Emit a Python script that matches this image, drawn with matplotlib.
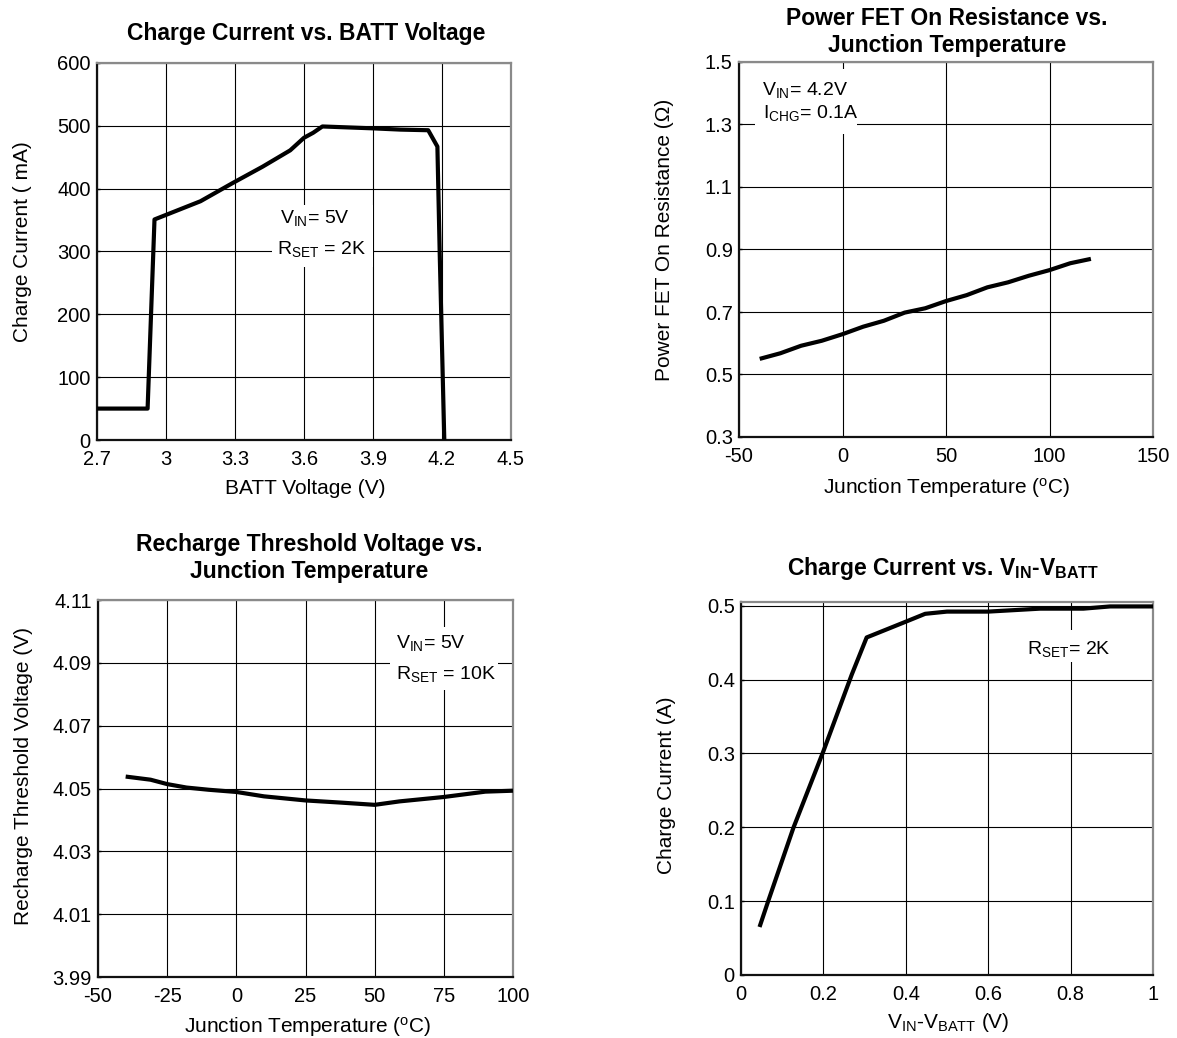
import matplotlib
matplotlib.use("Agg")
import matplotlib.pyplot as plt
from matplotlib.patches import Rectangle

plt.rcParams['font.family'] = ['Liberation Sans', 'DejaVu Sans']
plt.rcParams['mathtext.fontset'] = 'custom'
plt.rcParams['mathtext.rm'] = 'Liberation Sans'
plt.rcParams['mathtext.it'] = 'Liberation Sans:italic'
plt.rcParams['mathtext.bf'] = 'Liberation Sans:bold'
plt.rcParams['mathtext.sf'] = 'Liberation Sans'

# ---------------- data ----------------
# Panel 1: Charge Current vs. BATT Voltage
batt_v = [2.70, 2.92, 2.95, 3.15, 3.29, 3.42, 3.54, 3.60, 3.64, 3.68, 3.90, 4.02, 4.14, 4.18, 4.19, 4.21]
charge_ma = [50, 50, 351, 380, 409, 435, 461, 481, 489, 499, 496, 494, 493, 467, 298, 0]
p1_xticks = [2.7, 3.0, 3.3, 3.6, 3.9, 4.2, 4.5]
p1_xlabels = ["2.7", "3", "3.3", "3.6", "3.9", "4.2", "4.5"]
p1_yticks = [0, 100, 200, 300, 400, 500, 600]
p1_ylabels = ["0", "100", "200", "300", "400", "500", "600"]

# Panel 2: Power FET On Resistance vs. Junction Temperature
fet_temp = [-40, -30, -20, -10, 0, 10, 20, 30, 40, 50, 60, 70, 80, 90, 100, 110, 120]
fet_res = [0.550, 0.568, 0.592, 0.608, 0.629, 0.653, 0.672, 0.698, 0.712, 0.735,
           0.754, 0.779, 0.795, 0.816, 0.834, 0.856, 0.870]
p2_xticks = [-50, 0, 50, 100, 150]
p2_xlabels = ["-50", "0", "50", "100", "150"]
p2_yticks = [0.3, 0.5, 0.7, 0.9, 1.1, 1.3, 1.5]
p2_ylabels = ["0.3", "0.5", "0.7", "0.9", "1.1", "1.3", "1.5"]

# Panel 3: Recharge Threshold Voltage vs. Junction Temperature
rch_temp = [-40, -31, -25, -18, -10, 0, 10, 25, 38, 50, 59, 75, 90, 100]
rch_volt = [4.0538, 4.0528, 4.0514, 4.0503, 4.0496, 4.0489, 4.0475, 4.0462,
            4.0455, 4.0448, 4.0459, 4.0473, 4.0490, 4.0493]
p3_xticks = [-50, -25, 0, 25, 50, 75, 100]
p3_xlabels = ["-50", "-25", "0", "25", "50", "75", "100"]
p3_yticks = [3.99, 4.01, 4.03, 4.05, 4.07, 4.09, 4.11]
p3_ylabels = ["3.99", "4.01", "4.03", "4.05", "4.07", "4.09", "4.11"]

# Panel 4: Charge Current vs. VIN-VBATT
dv = [0.045, 0.066, 0.127, 0.200, 0.269, 0.305, 0.394, 0.447, 0.500, 0.600, 0.726, 0.831, 0.896, 1.000]
ichg_a = [0.065, 0.100, 0.199, 0.303, 0.407, 0.457, 0.477, 0.489, 0.492, 0.492, 0.496, 0.496, 0.499, 0.499]
p4_xticks = [0, 0.2, 0.4, 0.6, 0.8, 1.0]
p4_xlabels = ["0", "0.2", "0.4", "0.6", "0.8", "1"]
p4_yticks = [0, 0.1, 0.2, 0.3, 0.4, 0.5]
p4_ylabels = ["0", "0.1", "0.2", "0.3", "0.4", "0.5"]

# ---------------- layout ----------------
W, H = 1177, 1038
fig = plt.figure(figsize=(W / 100, H / 100), dpi=100)
fig.patch.set_facecolor('white')

TICK_FS = 14.5
LABEL_FS = 15
TITLE_FS = 16.5
ANN_FS = 14


def add_axes_px(l, t, r, b):
    return fig.add_axes([l / W, 1 - b / H, (r - l) / W, (b - t) / H])


def style(ax, xt, xl, yt, yl, xlim, ylim):
    ax.set_xlim(*xlim)
    ax.set_ylim(*ylim)
    ax.set_xticks(xt, xl)
    ax.set_yticks(yt, yl)
    ax.set_axisbelow(True)
    ax.grid(True, color='black', lw=0.8)
    for s in ['left', 'bottom']:
        ax.spines[s].set_color('#111111')
        ax.spines[s].set_linewidth(1.6)
    for s in ['top', 'right']:
        ax.spines[s].set_color('#8a8a8a')
        ax.spines[s].set_linewidth(1.6)
    ax.tick_params(axis='x', length=0, pad=7.5, labelsize=TICK_FS)
    ax.tick_params(axis='y', length=2.5, width=1, direction='in', pad=4.5, labelsize=TICK_FS)


def box_px(ax, rect_px, axes_px):
    l, t, r, b = axes_px
    x0, y0, x1, y1 = rect_px
    fx0 = (x0 - l) / (r - l)
    fx1 = (x1 - l) / (r - l)
    fy0 = (b - y1) / (b - t)
    fy1 = (b - y0) / (b - t)
    ax.add_patch(Rectangle((fx0, fy0), fx1 - fx0, fy1 - fy0, transform=ax.transAxes,
                           facecolor='white', edgecolor='none', zorder=1.5))


def title_px(text, x, y):
    fig.text(x / W, 1 - y / H, text, ha='center', va='baseline',
             fontsize=TITLE_FS, fontweight='bold')


LINE_KW = dict(color='black', lw=3.0, solid_joinstyle='round', solid_capstyle='butt', zorder=3)
ANN_KW = dict(fontsize=ANN_FS, ha='left', va='baseline', zorder=4)

# ---- Panel 1 ----
A1 = (97, 63, 511, 440)
ax1 = add_axes_px(*A1)
style(ax1, p1_xticks, p1_xlabels, p1_yticks, p1_ylabels, (2.7, 4.5), (0, 600))
ax1.plot(batt_v, charge_ma, **LINE_KW)
box_px(ax1, (272, 205, 373, 267), A1)
ax1.text(3.496, 345, r'$\mathregular{V_{IN}}$= 5V', **ANN_KW)
ax1.text(3.483, 296, r'$\mathregular{R_{SET}}$ = 2K', **ANN_KW)
ax1.set_xlabel('BATT Voltage (V)', fontsize=LABEL_FS, va='baseline')
ax1.xaxis.set_label_coords(0.5024, -0.1432)
ax1.set_ylabel('Charge Current ( mA)', fontsize=LABEL_FS, va='center')
ax1.yaxis.set_label_coords(-0.18, 0.525)
title_px('Charge Current vs. BATT Voltage', 306, 40)

# ---- Panel 2 ----
A2 = (739, 62, 1153, 437)
ax2 = add_axes_px(*A2)
style(ax2, p2_xticks, p2_xlabels, p2_yticks, p2_ylabels, (-50, 150), (0.3, 1.5))
ax2.plot(fet_temp, fet_res, **LINE_KW)
box_px(ax2, (755, 69, 857, 134), A2)
ax2.text(-39.0, 1.394, r'$\mathregular{V_{IN}}$= 4.2V', **ANN_KW)
ax2.text(-38.3, 1.320, r'$\mathregular{I_{CHG}}$= 0.1A', **ANN_KW)
ax2.set_xlabel(r'Junction Temperature ($\mathregular{^o}$C)', fontsize=LABEL_FS, va='baseline')
ax2.xaxis.set_label_coords(0.5024, -0.152)
ax2.set_ylabel('Power FET On Resistance (\u03a9)', fontsize=LABEL_FS, va='center')
ax2.yaxis.set_label_coords(-0.18, 0.525)
title_px('Power FET On Resistance vs.', 947, 25)
title_px('Junction Temperature', 947, 52)

# ---- Panel 3 ----
A3 = (98, 600, 513, 977)
ax3 = add_axes_px(*A3)
style(ax3, p3_xticks, p3_xlabels, p3_yticks, p3_ylabels, (-50, 100), (3.99, 4.11))
ax3.plot(rch_temp, rch_volt, **LINE_KW)
box_px(ax3, (390, 627, 498, 690), A3)
ax3.text(57.7, 4.0946, r'$\mathregular{V_{IN}}$= 5V', **ANN_KW)
ax3.text(57.7, 4.0848, r'$\mathregular{R_{SET}}$ = 10K', **ANN_KW)
ax3.set_xlabel(r'Junction Temperature ($\mathregular{^o}$C)', fontsize=LABEL_FS, va='baseline')
ax3.xaxis.set_label_coords(0.5053, -0.1485)
ax3.set_ylabel('Recharge Threshold Voltage (V)', fontsize=LABEL_FS, va='center')
ax3.yaxis.set_label_coords(-0.1795, 0.533)
title_px('Recharge Threshold Voltage vs.', 309, 551)
title_px('Junction Temperature', 309, 578)

# ---- Panel 4 ----
A4 = (741, 602, 1153, 975)
ax4 = add_axes_px(*A4)
style(ax4, p4_xticks, p4_xlabels, p4_yticks, p4_ylabels, (0, 1.0), (0, 0.505))
ax4.plot(dv, ichg_a, **LINE_KW)
box_px(ax4, (1020, 630, 1110, 662), A4)
ax4.text(0.6934, 0.4346, r'$\mathregular{R_{SET}}$= 2K', **ANN_KW)
ax4.set_xlabel(r'$\mathregular{V_{IN}}$-$\mathregular{V_{BATT}}$ (V)', fontsize=LABEL_FS, va='baseline')
ax4.xaxis.set_label_coords(0.5024, -0.142)
ax4.set_ylabel('Charge Current (A)', fontsize=LABEL_FS, va='center')
ax4.yaxis.set_label_coords(-0.181, 0.509)
title_px(r'Charge Current vs. $\mathbf{V_{IN}}$-$\mathbf{V_{BATT}}$', 943, 575)

fig.savefig('out.png', dpi=100, facecolor='white')
